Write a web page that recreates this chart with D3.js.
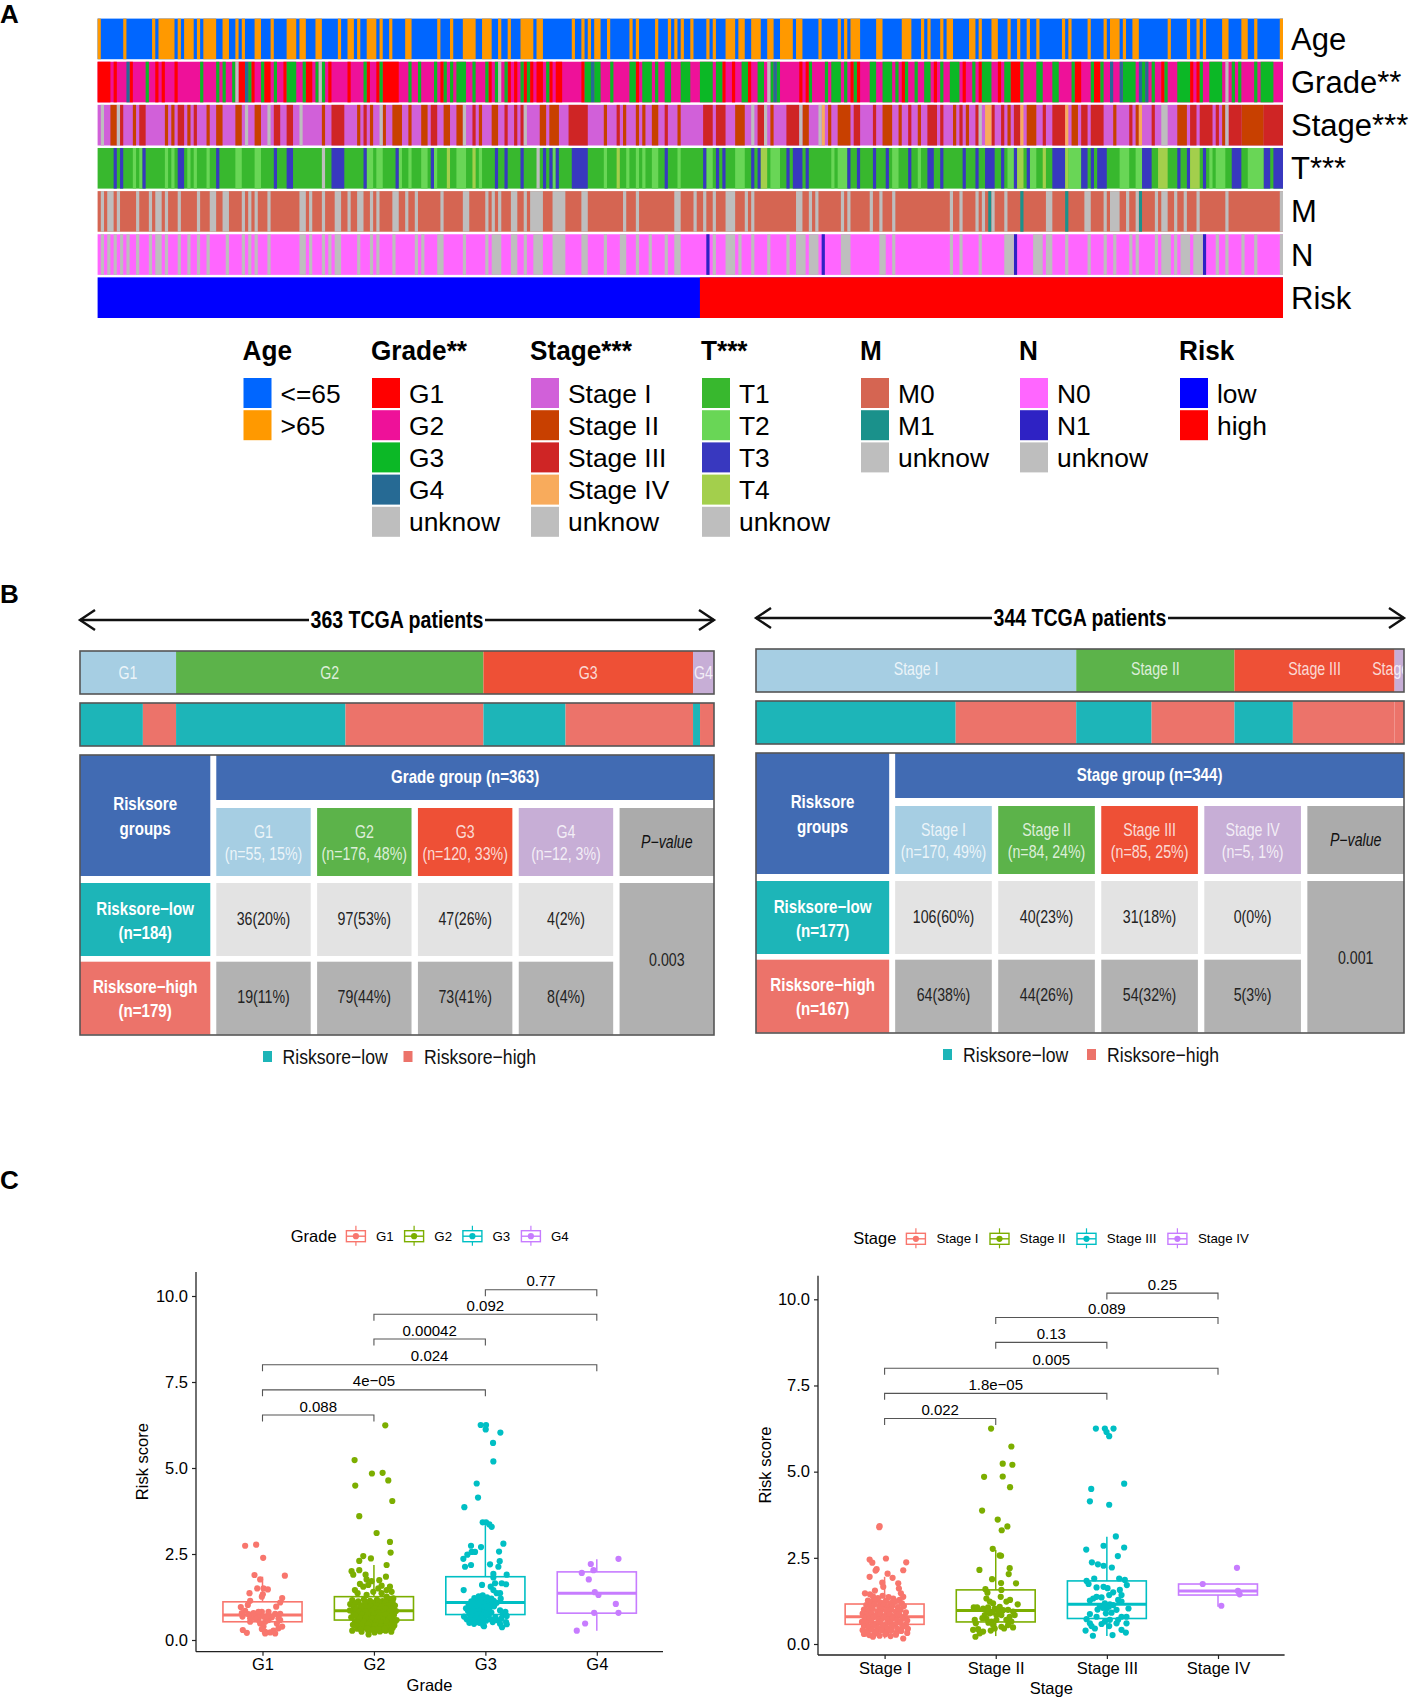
<!DOCTYPE html>
<html><head><meta charset="utf-8"><script src="https://cdn.jsdelivr.net/npm/d3@7"></script>
<style>html,body{margin:0;background:#fff}svg{display:block}text{font-family:"Liberation Sans",Arial,sans-serif}</style></head>
<body><svg id="c" width="1417" height="1704"></svg>
<script>
// ---------- A: annotation heat map, [first patient, run length] per category
const patientCount = 370;
const riskLowCount = 188;
const ageOver65 = [[0,1],[8,1],[17,1],[19,5],[25,1],[27,3],[31,1],[33,4],[39,2],[43,1],[45,1],[49,2],[54,1],[59,3],[63,2],[68,2],[75,1],[78,2],[81,1],[84,3],[88,1],[91,1],[96,2],[106,1],[110,1],[114,4],[120,3],[125,1],[128,1],[132,4],[137,2],[148,1],[151,1],[153,1],[155,2],[159,1],[166,1],[168,1],[174,1],[178,1],[180,1],[182,1],[185,1],[190,1],[192,1],[196,3],[200,2],[204,3],[209,2],[213,4],[218,2],[225,1],[231,1],[233,1],[235,3],[243,2],[251,3],[257,1],[259,1],[263,1],[265,2],[272,2],[275,1],[279,2],[284,1],[287,1],[290,1],[293,1],[301,1],[303,1],[309,1],[314,1],[316,3],[320,1],[323,2],[334,1],[340,1],[343,1],[345,1],[351,2],[357,2],[361,1],[369,1]];
const gradeG1 = [[0,4],[5,1],[10,1],[18,1],[20,1],[24,1],[44,2],[48,1],[52,2],[58,1],[65,2],[72,1],[78,1],[84,1],[87,1],[89,5],[107,1],[122,1],[128,1],[130,1],[133,1],[135,1],[137,2],[141,1],[143,2],[151,1],[168,1],[195,1],[198,1],[203,1],[219,1],[221,1],[235,1],[237,1],[251,1],[261,1],[270,1],[275,1],[281,1],[285,3],[305,2],[311,2],[332,1],[341,1],[343,1]];
const gradeG3 = [[15,1],[32,1],[37,1],[39,1],[42,1],[47,1],[51,1],[55,1],[59,3],[64,1],[68,1],[70,1],[83,1],[88,1],[97,1],[100,1],[105,1],[108,1],[110,1],[112,3],[117,1],[121,1],[124,1],[127,1],[132,1],[134,1],[140,1],[152,2],[155,2],[160,1],[166,2],[170,3],[174,1],[177,2],[182,3],[188,4],[193,2],[201,2],[206,2],[210,1],[212,1],[222,1],[227,1],[229,3],[233,1],[236,1],[241,2],[245,3],[249,1],[252,1],[255,1],[258,2],[263,1],[266,3],[273,1],[276,3],[283,2],[288,1],[293,2],[298,2],[304,1],[310,1],[313,1],[320,4],[326,1],[329,1],[333,1],[337,4],[344,1],[347,4],[354,1],[356,1],[361,1],[363,4]];
const gradeG4 = [[9,1],[46,1],[154,1],[211,1],[316,1],[319,1],[325,1],[327,1]];
const gradeUnknown = [[43,1],[69,1],[125,1],[209,1],[352,1]];
const stageII = [[4,2],[11,1],[21,1],[23,1],[28,1],[34,1],[37,2],[43,2],[49,2],[70,1],[81,1],[85,1],[89,1],[92,3],[97,1],[101,2],[108,2],[112,2],[119,1],[123,2],[138,2],[141,3],[158,1],[164,1],[168,1],[170,1],[173,2],[181,1],[199,3],[210,1],[220,2],[228,1],[231,4],[245,3],[250,1],[256,1],[267,1],[271,1],[284,1],[290,3],[304,2],[317,1],[324,1],[337,3],[351,1],[357,7]];
const stageIII = [[7,1],[13,2],[25,2],[30,1],[55,2],[59,2],[73,4],[83,1],[104,2],[117,1],[127,1],[130,1],[132,1],[147,6],[162,1],[177,1],[189,3],[193,3],[206,2],[215,4],[236,2],[242,1],[253,1],[259,3],[263,1],[269,1],[274,1],[279,1],[282,1],[286,2],[295,1],[298,4],[307,2],[310,4],[322,1],[329,1],[341,2],[344,4],[349,1],[353,4],[364,6]];
const stageIV = [[226,1],[277,2],[288,1],[302,1],[325,1]];
const stageUnknown = [[1,1],[6,1],[46,1],[53,1],[63,1],[88,1],[114,1],[133,1],[204,1],[208,1],[219,1],[225,1],[275,1],[332,2],[352,1]];
const tT2 = [[11,1],[13,1],[21,1],[23,1],[28,1],[30,1],[34,1],[43,2],[49,2],[84,2],[87,2],[94,1],[97,1],[101,2],[105,1],[112,3],[119,1],[142,1],[158,1],[165,1],[168,1],[170,1],[173,2],[181,1],[190,2],[199,3],[210,3],[229,1],[231,3],[248,2],[256,1],[284,2],[291,2],[303,4],[319,3],[324,2],[347,1],[349,3],[359,5]];
const tT3 = [[5,1],[7,1],[14,1],[25,2],[37,1],[55,1],[59,2],[73,4],[83,1],[93,1],[104,1],[124,1],[127,1],[132,1],[139,1],[141,1],[143,1],[148,5],[177,1],[189,1],[193,1],[195,1],[204,1],[206,1],[215,1],[217,3],[221,1],[234,1],[237,1],[242,1],[246,1],[253,1],[259,2],[263,1],[270,1],[274,1],[277,3],[282,1],[286,1],[290,1],[298,4],[307,2],[310,1],[312,3],[326,3],[337,1],[340,1],[345,1],[354,3],[364,2],[367,3]];
const tT4 = [[109,1],[117,1],[162,1],[207,2],[287,2],[295,1],[302,1],[331,3],[341,3]];
const tUnknown = [[70,1],[137,1]];
const mM1 = [[278,1],[288,1],[302,1],[325,1]];
const mUnknown = [[1,1],[3,2],[6,1],[12,1],[16,1],[18,2],[21,1],[25,1],[31,1],[35,2],[39,2],[45,1],[47,1],[49,1],[53,1],[63,2],[66,1],[70,1],[74,2],[78,1],[81,2],[85,1],[87,1],[92,2],[96,1],[99,1],[107,1],[114,2],[121,1],[123,1],[125,1],[129,2],[133,1],[135,4],[142,4],[151,2],[164,1],[168,1],[180,2],[186,1],[189,1],[192,1],[196,3],[202,1],[204,1],[218,2],[222,1],[224,1],[232,1],[234,1],[241,1],[244,1],[248,1],[266,1],[269,1],[274,1],[276,1],[279,1],[283,1],[296,2],[308,2],[314,1],[316,3],[321,1],[324,1],[330,1],[332,2],[336,1],[339,1],[343,1],[352,1],[369,1]];
const nN1 = [[190,1],[226,1],[286,1],[345,1]];
const nUnknown = [[1,1],[3,1],[5,1],[7,1],[9,1],[12,1],[16,1],[18,2],[21,1],[25,1],[28,1],[31,1],[34,1],[40,1],[45,1],[47,1],[49,1],[53,1],[63,2],[66,1],[70,1],[72,1],[74,2],[81,1],[85,1],[87,1],[92,1],[99,1],[101,1],[106,2],[114,1],[121,1],[123,3],[129,2],[133,1],[136,3],[142,4],[151,2],[158,1],[163,2],[168,1],[172,1],[177,1],[180,2],[192,1],[196,3],[200,1],[204,1],[209,1],[215,1],[218,3],[222,3],[232,3],[244,2],[248,1],[266,1],[269,1],[275,1],[283,3],[292,3],[296,2],[302,1],[309,1],[314,1],[317,1],[322,1],[324,1],[330,1],[332,3],[336,1],[338,3],[342,3],[349,1],[352,1],[357,1],[361,1],[369,1]];

const ageLevels = ["<=65",">65"], gradeLevels = ["G1","G2","G3","G4","unknow"], stageLevels = ["Stage I","Stage II","Stage III","Stage IV","unknow"];
const tLevels = ["T1","T2","T3","T4","unknow"], mLevels = ["M0","M1","unknow"], nLevels = ["N0","N1","unknow"], riskLevels = ["low","high"];
const ageColors = ["#0066ff","#ff9900"], gradeColors = ["#ff0000","#ee1199","#0cb826","#266a94","#bebebe"], stageColors = ["#d160d9","#c84000","#cf2525","#f8ab5c","#bebebe"];
const tColors = ["#38b82e","#69d656","#3838bf","#a3cf4c","#bebebe"], mColors = ["#d56552","#1a918b","#bebebe"], nColors = ["#ff66ff","#2e22c4","#bebebe"], riskColors = ["#0000ff","#ff0000"];

// ---------- B: contingency tables
const gradeGroups = ["G1","G2","G3","G4"], gradeLow = [36,97,47,4], gradeHigh = [19,79,73,8], gradeLowPct = [20,53,26,2], gradeHighPct = [11,44,41,4], gradeN = [55,176,120,12], gradePctAll = [15,48,33,3];
const stageGroups = ["Stage I","Stage II","Stage III","Stage IV"], stageLow = [106,40,31,0], stageHigh = [64,44,54,5], stageLowPct = [60,23,18,0], stageHighPct = [38,26,32,3], stageN = [170,84,85,5], stagePctAll = [49,24,25,1];
const groupColors = ["#a6cee3","#5cb34a","#ee5036","#c7aed6"];

// ---------- C: box plots [q1, median, q3, whisker low, whisker high]; points [jitter, risk score]
const groupBoxColors = ["#F8766D","#7CAE00","#00BFC4","#C77CFF"];
const gradeBoxes = [[.53,.73,1.11,.19,1.84],[.58,.85,1.26,.16,2.18],[.74,1.09,1.84,.37,3.34],[.78,1.36,1.98,.27,2.35]];
const stageBoxes = [[.57,.79,1.16,.16,1.95],[.64,.97,1.57,.23,2.73],[.74,1.15,1.83,.23,3.11],[1.42,1.54,1.74,1.08,1.74]];
const gradeP = [["G3","G4",10.18,"0.77"],["G2","G4",9.47,"0.092"],["G2","G3",8.75,"0.00042"],["G1","G4",8.0,"0.024"],["G1","G3",7.27,"4e−05"],["G1","G2",6.54,"0.088"]];
const stageP = [["Stage III","Stage IV",10.18,"0.25"],["Stage II","Stage IV",9.47,"0.089"],["Stage II","Stage III",8.75,"0.13"],["Stage I","Stage IV",8.0,"0.005"],["Stage I","Stage III",7.27,"1.8e−05"],["Stage I","Stage II",6.54,"0.022"]];
const yTicks = [0,2.5,5,7.5,10];
const gradePointsG1 = [[-52,2.74],[-19,2.77],[2,2.39],[-24,1.89],[67,1.87],[-7,1.76],[-16,1.5],[3,1.5],[16,1.47],[-39,1.36],[1,1.33],[-2,1.26],[59,1.22],[-37,1.14],[53,1.09],[-44,1.02],[41,.97],[-65,.96],[-52,.85],[-60,.68],[-42,.75],[-22,.73],[-12,.68],[3,.68],[18,.73],[38,.76],[53,.76],[-37,.53],[-12,.58],[8,.53],[18,.58],[-7,.48],[3,.39],[8,.24],[23,.22],[33,.27],[48,.34],[59,.39],[53,.58],[-59,.29],[-47,.21],[-2,.32],[-37,.63],[-22,.63],[28,.66],[-62,.78],[48,.63],[13,.68],[-2,.82],[18,.82],[43,.48],[-27,.78],[8,.19],[-12,.82],[38,.19]];
const gradePointsG2 = [[34,6.24],[-58,5.23],[-6,4.84],[26,4.86],[43,4.64],[-56,4.49],[55,4.04],[-44,3.6],[8,3.11],[48,2.85],[50,2.54],[-32,2.44],[-44,2.3],[-9,2.37],[38,2.18],[-67,2.0],[-44,2.03],[-62,1.9],[36,1.84],[-25,1.9],[-22,1.76],[-7,1.71],[-42,1.63],[16,1.74],[-32,1.55],[-17,1.6],[23,1.58],[48,1.55],[13,1.5],[38,1.45],[53,1.4],[-57,1.45],[-49,1.36],[-22,1.31],[-2,1.4],[23,1.36],[38,1.26],[58,1.21],[-65,1.16],[-47,1.12],[-30,1.18],[-12,1.14],[9,1.17],[26,1.13],[43,1.19],[56,1.1],[-71,1.04],[-54,1.07],[-36,1.01],[-19,1.06],[3,1.03],[17,1.08],[33,1.02],[49,1.05],[63,1.0],[-60,.96],[-43,.92],[-24,.97],[-7,.9],[11,.95],[29,.91],[45,.96],[59,.93],[-72,.86],[-51,.83],[-34,.88],[-16,.82],[6,.87],[21,.81],[39,.85],[53,.8],[66,.84],[-61,.76],[-44,.72],[-27,.78],[-9,.71],[8,.75],[26,.7],[41,.77],[60,.73],[-68,.66],[-49,.62],[-33,.67],[-13,.6],[4,.65],[19,.61],[36,.68],[55,.63],[68,.58],[-57,.55],[-39,.52],[-21,.57],[-4,.5],[13,.54],[30,.49],[47,.56],[62,.51],[-63,.44],[-46,.41],[-26,.46],[-7,.4],[11,.43],[28,.38],[43,.45],[61,.42],[-50,.33],[-29,.36],[-11,.3],[7,.34],[24,.29],[41,.31],[56,.35],[-65,.27],[-37,.24],[-17,.27],[2,.22],[18,.25],[35,.27],[52,.24],[-16,.16],[-25,1.1],[-3,1.09],[14,1.12],[35,1.1],[-40,1.0],[-27,1.03],[-10,.98],[8,1.0],[24,.98],[40,1.0],[-55,.9],[-36,.95],[-18,.93],[2,.93],[18,.9],[34,.93],[52,.88],[-45,.82],[-26,.84],[-6,.84],[13,.8],[30,.8],[46,.82],[-55,.72],[-36,.73],[-18,.74],[0,.72],[17,.72],[34,.74],[50,.7],[-42,.64],[-24,.65],[-5,.62],[12,.63],[28,.6],[45,.62],[-50,.52],[-30,.53],[-13,.52],[5,.51],[22,.52],[38,.53],[55,.5],[-55,.42],[-36,.42],[-17,.44],[2,.42],[20,.4],[36,.4],[52,.44],[-40,.32],[-20,.33],[-2,.3],[16,.32],[32,.33]];
const gradePointsG3 = [[-14,6.25],[2,6.25],[1,6.12],[45,6.03],[23,5.73],[24,5.19],[-26,4.55],[-22,4.14],[-63,3.86],[-8,3.42],[2,3.42],[12,3.36],[19,3.29],[54,2.8],[-43,2.74],[-13,2.7],[-31,2.56],[-41,2.56],[41,2.57],[-54,2.48],[-66,2.36],[43,2.29],[-61,2.13],[-43,2.18],[14,2.2],[39,2.13],[24,1.92],[64,1.9],[24,1.82],[29,1.65],[49,1.65],[62,1.62],[-10,1.6],[-65,1.45],[16,1.55],[24,1.45],[34,1.36],[44,1.36],[-33,1.22],[-20,1.27],[-8,1.3],[5,1.24],[18,1.2],[-42,1.12],[-28,1.15],[-14,1.18],[0,1.13],[12,1.1],[25,1.14],[46,1.2],[-50,1.03],[-36,1.05],[-22,1.0],[-8,1.06],[6,1.01],[20,1.04],[34,1.08],[-58,.92],[-44,.95],[-30,.9],[-16,.94],[-2,.89],[12,.93],[26,.98],[-52,.84],[-38,.8],[-24,.85],[-10,.78],[4,.83],[18,.8],[44,.86],[60,.82],[-46,.72],[-32,.7],[-18,.74],[-4,.68],[10,.71],[30,.66],[52,.74],[64,.7],[-64,.68],[-56,.6],[-40,.6],[-26,.58],[-12,.62],[2,.56],[16,.6],[34,.58],[48,.62],[62,.52],[-48,.5],[-34,.47],[-18,.5],[-6,.42],[22,.52],[44,.47],[64,.46],[50,.37],[-4,.4],[-25,1.2],[-12,1.22],[8,1.18],[-35,1.08],[-18,1.08],[-2,1.05],[14,1.0],[-40,.98],[-25,.95],[-10,.96],[5,.97],[-35,.85],[-18,.84],[-3,.8],[12,.86],[-40,.72],[-25,.75],[-10,.7],[4,.75],[-30,.62],[-18,.6],[-5,.55]];
const gradePointsG4 = [[65,2.36],[-18,2.21],[-10,2.03],[-45,1.95],[-24,1.76],[-6,1.39],[5,1.31],[57,1.05],[-8,.79],[65,.79],[-35,.48],[-60,.27]];
const stagePointsI = [[-16,3.39],[-15,3.42],[4,2.48],[-45,2.45],[-37,2.36],[65,2.37],[-24,2.17],[-27,2.13],[56,2.14],[-45,1.95],[9,2.04],[24,1.92],[-7,1.78],[41,1.76],[-4,1.66],[43,1.61],[49,1.47],[56,1.37],[-29,1.55],[-59,1.47],[-44,1.44],[-35,1.38],[-20,1.33],[-6,1.4],[12,1.36],[26,1.32],[45,1.28],[-50,1.26],[-38,1.22],[-26,1.27],[-12,1.2],[4,1.25],[18,1.19],[32,1.24],[52,1.18],[-55,1.13],[-42,1.1],[-30,1.15],[-16,1.08],[-2,1.13],[10,1.07],[24,1.12],[40,1.06],[58,1.1],[-62,1.0],[-48,.97],[-36,1.03],[-22,.95],[-8,1.01],[6,.96],[20,1.0],[34,.94],[48,.99],[64,.92],[-66,.88],[-52,.85],[-40,.9],[-26,.83],[-12,.88],[2,.82],[16,.87],[30,.81],[44,.86],[60,.8],[-60,.76],[-46,.73],[-32,.78],[-18,.71],[-4,.76],[10,.7],[24,.75],[38,.69],[54,.74],[68,.68],[-68,.64],[-54,.61],[-40,.66],[-26,.59],[-12,.64],[4,.58],[18,.63],[32,.57],[48,.62],[64,.56],[-62,.52],[-48,.49],[-34,.54],[-20,.47],[-6,.52],[8,.46],[22,.51],[38,.45],[54,.5],[70,.44],[-66,.4],[-52,.37],[-38,.42],[-24,.35],[-10,.4],[6,.34],[20,.39],[36,.33],[50,.38],[68,.32],[-62,.29],[-46,.26],[-30,.3],[-15,.24],[2,.28],[18,.23],[34,.27],[56,.16],[-35,.21],[-52,.31]];
const stagePointsII = [[-14,6.25],[47,5.73],[21,5.23],[50,5.2],[21,4.86],[-35,4.85],[43,4.55],[-41,3.87],[6,3.61],[35,3.41],[18,3.3],[-9,2.76],[12,2.57],[16,2.56],[42,2.2],[-49,2.15],[39,2.03],[-11,1.88],[61,1.76],[16,1.77],[-31,1.59],[-25,1.49],[17,1.57],[15,1.37],[43,1.28],[32,1.23],[66,1.15],[-28,1.32],[-18,1.23],[-8,1.18],[-66,1.06],[-56,1.06],[-38,1.03],[-23,1.06],[-3,1.03],[12,1.08],[37,.99],[52,.94],[-33,.84],[-18,.89],[2,.84],[17,.84],[42,.79],[57,.84],[-63,.7],[-60,.6],[-28,.74],[-13,.65],[2,.7],[32,.7],[47,.65],[25,.45],[52,.48],[37,.55],[-68,.41],[-53,.43],[-38,.36],[-61,.21],[-48,.31],[-15,.39],[-3,.45],[17,.5],[-24,.95],[-10,.92],[8,.95],[-22,.62],[-40,.75],[-8,.55],[22,.98]];
const stagePointsIII = [[-33,6.25],[-6,6.25],[20,6.25],[-1,6.15],[7,6.03],[52,4.65],[-47,4.5],[-51,4.14],[7,4.04],[27,3.12],[-10,2.85],[52,2.8],[-62,2.74],[33,2.55],[-45,2.37],[-27,2.31],[-10,2.27],[15,2.22],[37,1.9],[-38,1.9],[54,1.86],[-61,1.83],[-55,1.74],[60,1.71],[-31,1.64],[-10,1.66],[2,1.62],[39,1.57],[19,1.5],[7,1.42],[44,1.42],[-31,1.37],[-16,1.35],[-41,1.32],[34,1.28],[-51,1.26],[44,1.23],[-6,1.18],[9,1.15],[-21,1.1],[19,1.13],[-1,1.03],[65,1.03],[29,.99],[-51,.87],[-31,.79],[-3,.89],[14,.91],[44,.79],[59,.79],[34,.7],[59,.6],[-61,.72],[-51,.6],[-36,.45],[-46,.52],[-16,.58],[-6,.65],[9,.7],[7,.52],[29,.6],[-64,.39],[44,.41],[57,.33],[-42,.24],[17,.26],[-12,1.05],[-28,1.0],[6,1.08]];
const stagePointsIV = [[57,2.21],[-46,1.74],[60,1.54],[65,1.44],[10,1.11]];

// ---------- helpers
const svg = d3.select("#c");
const defs = svg.append("defs");
function label(g,x,y,s,o={}){
  const t=g.append("text").attr("transform",`translate(${x},${y}) scale(${o.sx||1},1)`).text(s)
    .attr("font-size",o.size||16).attr("text-anchor",o.anchor||"start").attr("fill",o.fill||"#000");
  if(o.bold)t.attr("font-weight","bold"); if(o.italic)t.attr("font-style","italic"); if(o.opacity)t.attr("fill-opacity",o.opacity);
  return t;
}
[["A",23],["B",603],["C",1189]].forEach(d=>label(svg,0,d[1],d[0],{size:26,bold:true}));

// ---------- panel A
const heatRows = [
 {name:"Age",levels:ageLevels,colors:ageColors,main:0,runs:[[1,ageOver65]]},
 {name:"Grade**",levels:gradeLevels,colors:gradeColors,main:1,runs:[[0,gradeG1],[2,gradeG3],[3,gradeG4],[4,gradeUnknown]]},
 {name:"Stage***",levels:stageLevels,colors:stageColors,main:0,runs:[[1,stageII],[2,stageIII],[3,stageIV],[4,stageUnknown]]},
 {name:"T***",levels:tLevels,colors:tColors,main:0,runs:[[1,tT2],[2,tT3],[3,tT4],[4,tUnknown]]},
 {name:"M",levels:mLevels,colors:mColors,main:0,runs:[[1,mM1],[2,mUnknown]]},
 {name:"N",levels:nLevels,colors:nColors,main:0,runs:[[1,nN1],[2,nUnknown]]},
 {name:"Risk",levels:riskLevels,colors:riskColors,main:0,runs:[[1,[[riskLowCount,patientCount-riskLowCount]]]]}
];
const hx = d3.scaleLinear().domain([0,patientCount]).range([97.6,1283]);
const hy = d3.scaleBand().domain(heatRows.map(r=>r.name)).range([18.6,318]).paddingInner(0.058).paddingOuter(0);
const gA = svg.append("g");
heatRows.forEach(r=>{
  const g=gA.append("g");
  g.append("rect").attr("x",hx(0)).attr("width",hx(patientCount)-hx(0)).attr("y",hy(r.name)).attr("height",hy.bandwidth()).attr("fill",r.colors[r.main]);
  r.runs.forEach(([lv,runs])=>{
    g.selectAll(null).data(runs).join("rect").attr("x",d=>hx(d[0])).attr("width",d=>hx(d[0]+d[1])-hx(d[0]))
     .attr("y",hy(r.name)).attr("height",hy.bandwidth()).attr("fill",r.colors[lv]);
  });
  label(gA,1291,hy(r.name)+hy.bandwidth()/2+11,r.name,{size:31});
});
const legendXs = {"Age":243.5,"Grade**":372,"Stage***":531,"T***":702,"M":861,"N":1020,"Risk":1180};
heatRows.forEach(r=>{
  const x=legendXs[r.name];
  label(gA,x-1,360,r.name,{size:27,bold:true,sx:.97});
  r.levels.forEach((lv,i)=>{
    const y=378+i*32.2;
    gA.append("rect").attr("x",x).attr("y",y).attr("width",28).attr("height",30).attr("fill",r.colors[i]);
    label(gA,x+37,y+24.5,lv,{size:26.4});
  });
});

// ---------- panel B
const BLUE="#416bb3", TEAL="#1db5b8", SALMON="#ec736a", FRAME="#555";
const REG={size:17.5,sx:.81,anchor:"middle"}, BOLD={size:18,sx:.84,anchor:"middle",bold:true,fill:"#fff"};
function panelB(p){
  const g=svg.append("g"), X0=p.x0, X1=p.x1, W=X1-X0, dy=p.dy;
  const ay=620+dy;
  g.append("line").attr("x1",X0).attr("x2",X1).attr("y1",ay).attr("y2",ay).attr("stroke","#111").attr("stroke-width",2.4);
  [[X0,1],[X1,-1]].forEach(([x,s])=>g.append("path").attr("d",`M${x+s*15},${ay-10}L${x},${ay}L${x+s*15},${ay+10}`).attr("fill","none").attr("stroke","#111").attr("stroke-width",2.4));
  const cx=(X0+X1)/2;
  g.append("rect").attr("x",cx-88).attr("y",ay-14).attr("width",176).attr("height",28).attr("fill","#fff");
  label(g,cx,ay+7.5,p.title,{size:23,bold:true,sx:.85,anchor:"middle"});
  const clipId="clip"+X0;
  defs.append("clipPath").attr("id",clipId).append("rect").attr("x",X0).attr("y",640+dy).attr("width",W).attr("height",70);
  const total=d3.sum(p.n), sx=d3.scaleLinear().domain([0,total]).range([X0,X1]);
  let cum=0; const tb=651+dy, bh=43;
  const barT=g.append("g").attr("clip-path",`url(#${clipId})`);
  p.groups.forEach((gr,i)=>{
    barT.append("rect").attr("x",sx(cum)).attr("y",tb).attr("width",sx(cum+p.n[i])-sx(cum)).attr("height",bh).attr("fill",groupColors[i]);
    cum+=p.n[i];
  });
  cum=0;
  p.groups.forEach((gr,i)=>{
    label(barT,(sx(cum)+sx(cum+p.n[i]))/2,tb+28+p.barDy,gr,{...REG,fill:"#fff",opacity:.8});
    cum+=p.n[i];
  });
  g.append("rect").attr("x",X0).attr("y",tb).attr("width",W).attr("height",bh).attr("fill","none").attr("stroke",FRAME).attr("stroke-width",1.6);
  const b2=703+dy; cum=0;
  p.groups.forEach((gr,i)=>{
    [[p.low[i],TEAL],[p.high[i],SALMON]].forEach(([v,c])=>{
      g.append("rect").attr("x",sx(cum)).attr("y",b2).attr("width",sx(cum+v)-sx(cum)).attr("height",bh).attr("fill",c); cum+=v;
    });
  });
  g.append("rect").attr("x",X0).attr("y",b2).attr("width",W).attr("height",bh).attr("fill","none").attr("stroke",FRAME).attr("stroke-width",1.6);
  const LW=W*0.2055, HX=X0+LW+6, gap=6.4, CW=(X1-HX-4*gap)/5;
  const rect=(x,y,w,h,f)=>g.append("rect").attr("x",x).attr("y",y).attr("width",w).attr("height",h).attr("fill",f);
  const t0=755+dy;
  rect(X0,t0,LW,121,BLUE); rect(HX,t0,X1-HX,45,BLUE);
  label(g,X0+LW/2,810+dy,"Risksore",BOLD);
  label(g,X0+LW/2,835+dy,"groups",BOLD);
  label(g,(HX+X1)/2,782.5+dy,p.head,BOLD);
  const rowH=[883+dy,961.7+dy], rh=73;
  rect(X0,rowH[0],LW,rh,TEAL); rect(X0,rowH[1],LW,rh,SALMON);
  label(g,X0+LW/2,915+dy,"Risksore−low",BOLD);
  label(g,X0+LW/2,939+dy,`(n=${d3.sum(p.low)})`,BOLD);
  label(g,X0+LW/2,993+dy,"Risksore−high",BOLD);
  label(g,X0+LW/2,1017+dy,`(n=${d3.sum(p.high)})`,BOLD);
  p.groups.forEach((gr,i)=>{
    const x=HX+i*(CW+gap), c=x+CW/2;
    rect(x,808+dy,CW,68,groupColors[i]);
    label(g,c,837.5+dy,gr,{...REG,fill:"#fff",opacity:.8});
    label(g,c,859.5+dy,`(n=${p.n[i]}, ${p.pctAll[i]}%)`,{...REG,fill:"#fff",opacity:.8});
    rect(x,rowH[0],CW,rh,"#e3e3e3"); rect(x,rowH[1],CW,rh,"#b2b2b2");
    label(g,c,925+dy,`${p.low[i]}(${p.lowPct[i]}%)`,{...REG,fill:"#222"});
    label(g,c,1003+dy,`${p.high[i]}(${p.highPct[i]}%)`,{...REG,fill:"#222"});
  });
  const px=HX+4*(CW+gap);
  rect(px,808+dy,CW,68,"#ababab"); rect(px,rowH[0],CW,rowH[1]+rh-rowH[0],"#b0b0b0");
  label(g,px+CW/2,848+dy,"P−value",{...REG,italic:true,fill:"#111"});
  label(g,px+CW/2,965.7+dy,p.pval,{...REG,fill:"#222"});
  g.append("rect").attr("x",X0).attr("y",t0).attr("width",W).attr("height",280).attr("fill","none").attr("stroke",FRAME).attr("stroke-width",1.6);
  rect(p.lg[0],1051+dy,9,11,TEAL); label(g,p.lg[1],1064+dy,"Risksore−low",{size:21,sx:.84,fill:"#111"});
  rect(p.lg[2],1051+dy,9,11,SALMON); label(g,p.lg[3],1064+dy,"Risksore−high",{size:21,sx:.84,fill:"#111"});
}
panelB({x0:80,x1:714,dy:0,barDy:0,title:"363 TCGA patients",head:"Grade group (n=363)",groups:gradeGroups,n:gradeN,pctAll:gradePctAll,low:gradeLow,high:gradeHigh,lowPct:gradeLowPct,highPct:gradeHighPct,pval:"0.003",lg:[263,282.5,403.5,424]});
panelB({x0:756,x1:1404,dy:-2,barDy:-2,title:"344 TCGA patients",head:"Stage group (n=344)",groups:stageGroups,n:stageN,pctAll:stagePctAll,low:stageLow,high:stageHigh,lowPct:stageLowPct,highPct:stageHighPct,pval:"0.001",lg:[943,963,1087,1107]});

// ---------- panel C
function panelC(p){
  const g=svg.append("g");
  const x=d3.scalePoint().domain(p.cats).range([p.cx0,p.cx1]);
  const band=x.step();
  const y=d3.scaleLinear().domain([0,10]).range([p.y0,p.y10]);
  const jit=d3.scaleLinear().domain([-167,167]).range([-band/2,band/2]);
  const axisL=d3.axisLeft(y).tickValues(yTicks).tickFormat(d3.format(".1f")).tickSize(4);
  const ax=g.append("g").attr("transform",`translate(${p.axX},0)`).call(axisL);
  ax.select(".domain").attr("d",`M0,${p.axTop}V${p.axBot}`).attr("stroke","#222").attr("stroke-width",1.3);
  ax.selectAll("line").attr("stroke","#222").attr("stroke-width",1.2);
  ax.selectAll("text").attr("font-size",16.5).attr("fill","#000").attr("font-family",'"Liberation Sans"').attr("dx",-1);
  const axisB=d3.axisBottom(x).tickSize(4);
  const bx=g.append("g").attr("transform",`translate(0,${p.axBot})`).call(axisB);
  bx.select(".domain").attr("d",`M${p.axX},0H${p.axR}`).attr("stroke","#222").attr("stroke-width",1.3);
  bx.selectAll("line").attr("stroke","#222").attr("stroke-width",1.2);
  bx.selectAll("text").attr("font-size",16.5).attr("fill","#000").attr("font-family",'"Liberation Sans"').attr("dy",".71em").attr("y",7);
  label(g,0,0,"Risk score",{size:16.5,anchor:"middle"}).attr("transform",`translate(${p.ylabX},${p.ylabY}) rotate(-90)`);
  label(g,(p.axX+p.axR)/2,p.axBot+39,p.xTitle,{size:16.5,anchor:"middle"});
  const bw=band*0.71;
  p.cats.forEach((c,i)=>{
    const col=groupBoxColors[i], [q1,m,q3,lo,hi]=p.boxes[i], cx=x(c);
    const b=g.append("g").attr("stroke",col).attr("fill","none");
    b.append("line").attr("x1",cx).attr("x2",cx).attr("y1",y(q3)).attr("y2",y(hi)).attr("stroke-width",1.5);
    b.append("line").attr("x1",cx).attr("x2",cx).attr("y1",y(q1)).attr("y2",y(lo)).attr("stroke-width",1.5);
    b.append("rect").attr("x",cx-bw/2).attr("width",bw).attr("y",y(q3)).attr("height",y(q1)-y(q3)).attr("stroke-width",1.6);
    b.append("line").attr("x1",cx-bw/2).attr("x2",cx+bw/2).attr("y1",y(m)).attr("y2",y(m)).attr("stroke-width",3);
    g.selectAll(null).data(p.points[i]).join("circle").attr("cx",d=>cx+jit(d[0])).attr("cy",d=>y(d[1])).attr("r",3.1).attr("fill",col);
  });
  p.comp.forEach(([a,b,v,t])=>{
    const yy=y(v), tip=yy+6.4;
    g.append("path").attr("d",`M${x(a)},${tip}V${yy}H${x(b)}V${tip}`).attr("fill","none").attr("stroke","#555").attr("stroke-width",1.1);
    label(g,(x(a)+x(b))/2,yy-3.5,t,{size:15.5,anchor:"middle",sx:.97});
  });
  label(g,p.lgTitleX,p.lgY,p.xTitle,{size:16.5});
  p.cats.forEach((c,i)=>{
    const bx0=p.lgBox[i], col=groupBoxColors[i], lg=g.append("g").attr("stroke",col).attr("fill","none");
    lg.append("line").attr("x1",bx0+9.5).attr("x2",bx0+9.5).attr("y1",p.lgY-16).attr("y2",p.lgY+4).attr("stroke-width",1.2);
    lg.append("rect").attr("x",bx0).attr("y",p.lgY-11).attr("width",19).attr("height",11).attr("fill","#fff").attr("stroke-width",1.4);
    lg.append("line").attr("x1",bx0).attr("x2",bx0+19).attr("y1",p.lgY-5.5).attr("y2",p.lgY-5.5).attr("stroke-width",1.4);
    g.append("circle").attr("cx",bx0+9.5).attr("cy",p.lgY-5.5).attr("r",3.1).attr("fill",col);
    label(g,p.lgText[i],p.lgY-1,c,{size:13.3});
  });
}
panelC({cats:gradeGroups,cx0:262.5,cx1:596.8,y0:1640,y10:1296,axX:196,axR:663,axTop:1272,axBot:1651.7,ylabX:148,ylabY:1461.7,xTitle:"Grade",boxes:gradeBoxes,comp:gradeP,
  points:[gradePointsG1,gradePointsG2,gradePointsG3,gradePointsG4],lgTitleX:290.7,lgY:1241.7,lgBox:[346.4,404.6,462.9,521.4],lgText:[376,434.3,492.5,551]});
panelC({cats:stageGroups,cx0:884.6,cx1:1218,y0:1644,y10:1299.3,axX:818,axR:1284.6,axTop:1275.7,axBot:1655,ylabX:771,ylabY:1465,xTitle:"Stage",boxes:stageBoxes,comp:stageP,
  points:[stagePointsI,stagePointsII,stagePointsIII,stagePointsIV],lgTitleX:853.2,lgY:1244.3,lgBox:[906.4,990,1077,1167.9],lgText:[936.4,1019.6,1106.8,1197.9]});
</script></body></html>
